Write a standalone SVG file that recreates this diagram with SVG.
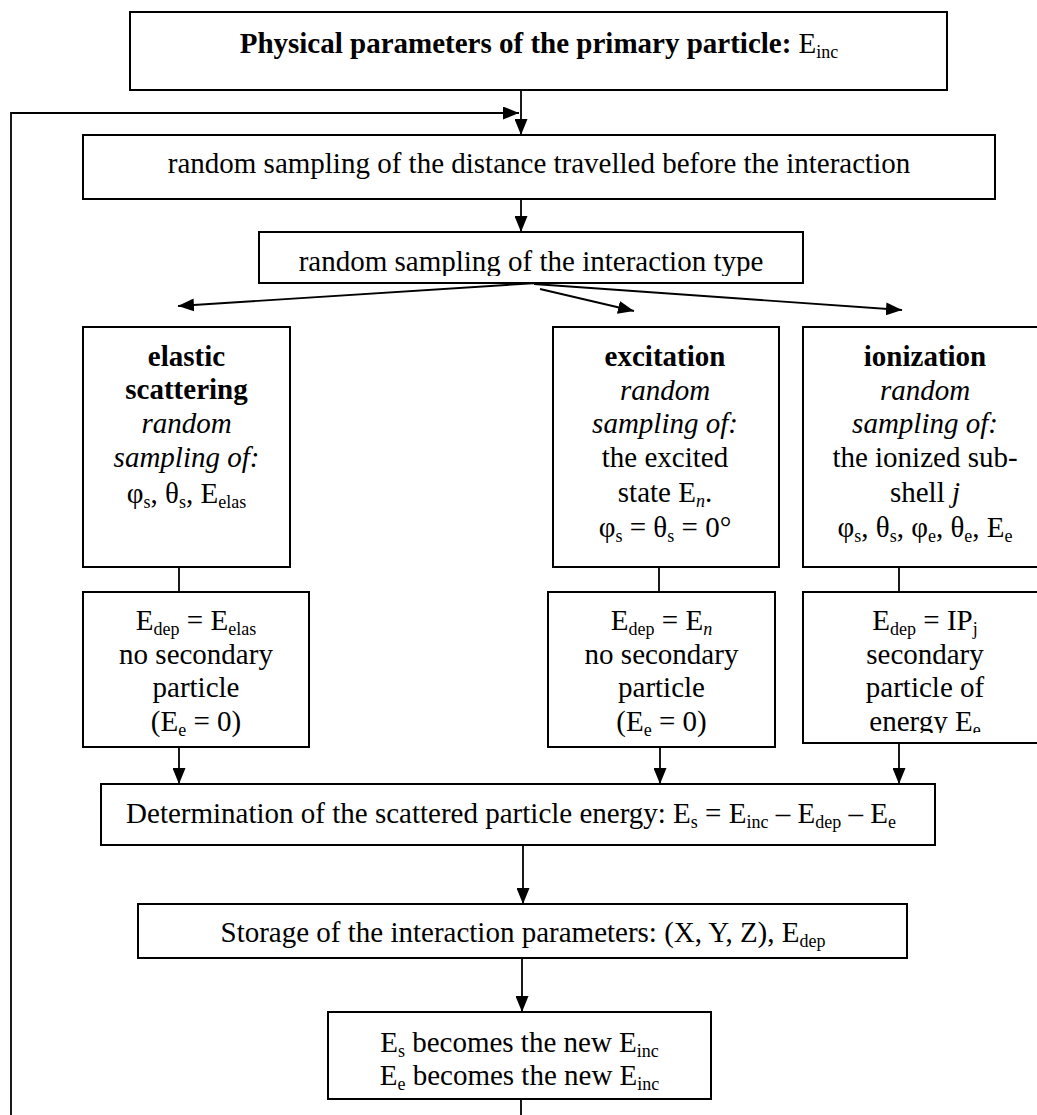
<svg xmlns="http://www.w3.org/2000/svg" width="1037" height="1115" viewBox="0 0 1037 1115">
<defs>
<marker id="ah" markerWidth="16" markerHeight="13" refX="16" refY="6.5" orient="auto" markerUnits="userSpaceOnUse"><path d="M0,0 L16,6.5 L0,13 Z" fill="#000"/></marker>
<clipPath id="clipType"><rect x="259" y="232" width="544" height="44"/></clipPath>
<clipPath id="clipIon"><rect x="803" y="592" width="244" height="141"/></clipPath>
</defs>
<style>
.box{fill:#fff;stroke:#000;stroke-width:2}
.t{font-family:"Liberation Serif","Times New Roman",serif;font-size:29px;fill:#000;text-anchor:middle}
.b{font-weight:bold}
.i{font-style:italic}
.s{font-size:18px}
.ln{fill:none;stroke:#000;stroke-width:1.8}
</style>
<rect width="1037" height="1115" fill="#fff"/>

<g id="connectors" class="ln">
<path d="M521,90 V135" marker-end="url(#ah)"/>
<path d="M521,1099 V1120 H11 V113 H519" marker-end="url(#ah)"/>
<path d="M521,199 V232" marker-end="url(#ah)"/>
<path d="M537,283 L178,306" marker-end="url(#ah)"/>
<path d="M540,289 L634,311" marker-end="url(#ah)"/>
<path d="M534,284 L902,310" marker-end="url(#ah)"/>
<path d="M179,567 V592"/>
<path d="M659,567 V592"/>
<path d="M899,567 V592"/>
<path d="M179,747 V784" marker-end="url(#ah)"/>
<path d="M660,747 V784" marker-end="url(#ah)"/>
<path d="M899,743 V784" marker-end="url(#ah)"/>
<path d="M523,845 V904" marker-end="url(#ah)"/>
<path d="M522,958 V1012" marker-end="url(#ah)"/>
</g>

<g id="primary">
<rect class="box" x="130" y="12" width="817" height="78"/>
<text class="t" x="539" y="53"><tspan class="b">Physical parameters of the primary particle:</tspan> E<tspan class="s" dy="5">inc</tspan></text>
</g>

<g id="distance">
<rect class="box" x="83" y="135" width="912" height="64"/>
<text class="t" x="539" y="173">random sampling of the distance travelled before the interaction</text>
</g>

<g id="type">
<rect class="box" x="259" y="232" width="544" height="51"/>
<text class="t" x="531" y="271" clip-path="url(#clipType)">random sampling of the interaction type</text>
</g>

<g id="elastic">
<rect class="box" x="83" y="327" width="207" height="240"/>
<text class="t b" x="186.5" y="366">elastic</text>
<text class="t b" x="186.5" y="399">scattering</text>
<text class="t i" x="186.5" y="433">random</text>
<text class="t i" x="186.5" y="467">sampling of:</text>
<text class="t" x="186.5" y="503">φ<tspan class="s" dy="5">s</tspan><tspan dy="-5">, θ</tspan><tspan class="s" dy="5">s</tspan><tspan dy="-5">, E</tspan><tspan class="s" dy="5">elas</tspan></text>
</g>

<g id="excitation">
<rect class="box" x="553" y="327" width="226" height="240"/>
<text class="t b" x="665" y="366">excitation</text>
<text class="t i" x="665" y="400">random</text>
<text class="t i" x="665" y="433">sampling of:</text>
<text class="t" x="665" y="467">the excited</text>
<text class="t" x="665" y="502">state E<tspan class="s i" dy="5">n</tspan><tspan dy="-5">.</tspan></text>
<text class="t" x="665" y="537">φ<tspan class="s" dy="5">s</tspan><tspan dy="-5"> = θ</tspan><tspan class="s" dy="5">s</tspan><tspan dy="-5"> = 0°</tspan></text>
</g>

<g id="ionization">
<rect class="box" x="803" y="327" width="244" height="240"/>
<text class="t b" x="925" y="366">ionization</text>
<text class="t i" x="925" y="400">random</text>
<text class="t i" x="925" y="433">sampling of:</text>
<text class="t" x="925" y="467">the ionized sub-</text>
<text class="t" x="925" y="502">shell <tspan class="i">j</tspan></text>
<text class="t" x="925" y="537">φ<tspan class="s" dy="5">s</tspan><tspan dy="-5">, θ</tspan><tspan class="s" dy="5">s</tspan><tspan dy="-5">, φ</tspan><tspan class="s" dy="5">e</tspan><tspan dy="-5">, θ</tspan><tspan class="s" dy="5">e</tspan><tspan dy="-5">, E</tspan><tspan class="s" dy="5">e</tspan></text>
</g>

<g id="elastic-result">
<rect class="box" x="83" y="592" width="226" height="155"/>
<text class="t" x="196" y="630">E<tspan class="s" dy="5">dep</tspan><tspan dy="-5"> = E</tspan><tspan class="s" dy="5">elas</tspan></text>
<text class="t" x="196" y="664">no secondary</text>
<text class="t" x="196" y="697">particle</text>
<text class="t" x="196" y="731">(E<tspan class="s" dy="5">e</tspan><tspan dy="-5"> = 0)</tspan></text>
</g>

<g id="excitation-result">
<rect class="box" x="548" y="592" width="227" height="155"/>
<text class="t" x="661.5" y="630">E<tspan class="s" dy="5">dep</tspan><tspan dy="-5"> = E</tspan><tspan class="s i" dy="5">n</tspan></text>
<text class="t" x="661.5" y="664">no secondary</text>
<text class="t" x="661.5" y="697">particle</text>
<text class="t" x="661.5" y="731">(E<tspan class="s" dy="5">e</tspan><tspan dy="-5"> = 0)</tspan></text>
</g>

<g id="ionization-result">
<rect class="box" x="803" y="592" width="244" height="151"/>
<g clip-path="url(#clipIon)">
<text class="t" x="925" y="630">E<tspan class="s" dy="5">dep</tspan><tspan dy="-5"> = IP</tspan><tspan class="s" dy="5">j</tspan></text>
<text class="t" x="925" y="664">secondary</text>
<text class="t" x="925" y="697">particle of</text>
<text class="t" x="925" y="731">energy E<tspan class="s" dy="5">e</tspan></text>
</g>
</g>

<g id="energy">
<rect class="box" x="101" y="784" width="834" height="61"/>
<text class="t" x="511" y="823">Determination of the scattered particle energy: E<tspan class="s" dy="5">s</tspan><tspan dy="-5"> = E</tspan><tspan class="s" dy="5">inc</tspan><tspan dy="-5"> – E</tspan><tspan class="s" dy="5">dep</tspan><tspan dy="-5"> – E</tspan><tspan class="s" dy="5">e</tspan></text>
</g>

<g id="storage">
<rect class="box" x="138" y="904" width="769" height="54"/>
<text class="t" x="523" y="942">Storage of the interaction parameters: (X, Y, Z), E<tspan class="s" dy="5">dep</tspan></text>
</g>

<g id="update">
<rect class="box" x="328" y="1012" width="383" height="87"/>
<text class="t" x="519.5" y="1052">E<tspan class="s" dy="5">s</tspan><tspan dy="-5"> becomes the new E</tspan><tspan class="s" dy="5">inc</tspan></text>
<text class="t" x="519.5" y="1085">E<tspan class="s" dy="5">e</tspan><tspan dy="-5"> becomes the new E</tspan><tspan class="s" dy="5">inc</tspan></text>
</g>
</svg>
